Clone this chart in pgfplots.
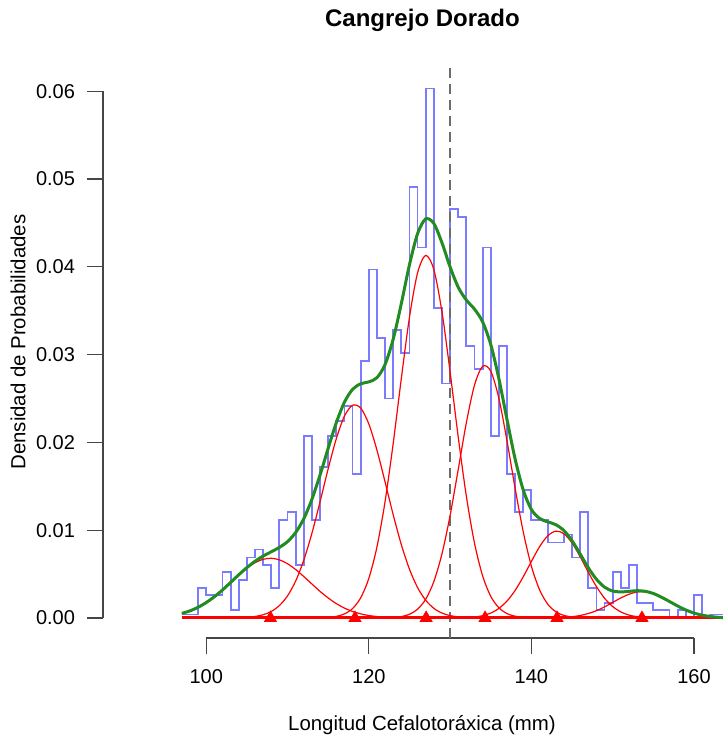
\documentclass[border=0pt]{standalone}
\usepackage{fontspec}
\setmainfont{Liberation Sans}
\usepackage{pgfplots}
\pgfplotsset{compat=1.18}
\definecolor{histblue}{RGB}{90,90,255}
\definecolor{fgreen}{RGB}{34,139,34}
\definecolor{axgray}{RGB}{70,70,70}

\begin{document}
\begin{tikzpicture}
\path[use as bounding box] (-51.5pt,-51pt) rectangle (310pt,319pt);
\begin{axis}[
  at={(0,0)}, anchor=south west,
  scale only axis, width=310pt, height=286pt,
  xmin=87.3, xmax=163.57, ymin=-0.00228, ymax=0.06287,
  axis lines*=left, axis line style={draw=none},
  clip=false,
  xtick={100,120,140,160},
  ytick={0,0.01,0.02,0.03,0.04,0.05,0.06},
  tick align=outside, major tick length=8pt,
  tick style={axgray, line width=0.6pt},
  /pgf/number format/assume math mode=true,
  scaled y ticks=false,
  yticklabel style={/pgf/number format/fixed, /pgf/number format/fixed zerofill, /pgf/number format/precision=2, xshift=-2.5pt},
  xticklabel style={/pgf/number format/set thousands separator={}, yshift=-4pt},
  tick label style={font=\fontsize{10}{12}\selectfont},
]
% axis lines (R style)
\draw[axgray, line width=0.6pt] (axis cs:100,-0.00228) -- (axis cs:160,-0.00228);
\draw[axgray, line width=0.6pt] (axis cs:87.3,0) -- (axis cs:87.3,0.06);

% histogram (density, 1 mm bins)
\addplot[const plot, histblue, line width=0.9pt, opacity=0.8] coordinates {
(97,0.0004)(98,0.0004)(99,0.0034)(100,0.0026)(101,0.0026)(102,0.0052)(103,0.0009)(104,0.0043)
(105,0.0069)(106,0.0078)(107,0.0060)(108,0.0034)(109,0.0112)(110,0.0121)(111,0.0060)(112,0.0207)
(113,0.0112)(114,0.0172)(115,0.0207)(116,0.0224)(117,0.0241)(118,0.0164)(119,0.0293)(120,0.0397)
(121,0.0319)(122,0.0250)(123,0.0328)(124,0.0302)(125,0.0491)(126,0.0422)(127,0.0603)(128,0.0353)
(129,0.0267)(130,0.0466)(131,0.0457)(132,0.0310)(133,0.0284)(134,0.0422)(135,0.0207)(136,0.0310)
(137,0.0164)(138,0.0121)(139,0.0146)(140,0.0112)(141,0.0112)(142,0.0086)(143,0.0086)(144,0.0095)
(145,0.0069)(146,0.0121)(147,0.0034)(148,0.0009)(149,0.0017)(150,0.0052)(151,0.0034)(152,0.0060)
(153,0.0017)(154,0.0017)(155,0.0009)(156,0.0009)(157,0)(158,0.0009)(159,0)(160,0.0026)
(161,0)(162,0.0004)(163.57,0.0004)
};

% cut-off line
\addplot[gray!85!black, line width=1.3pt, dash pattern=on 5pt off 3pt] coordinates {(130,-0.00228)(130,0.0629)};

% red baseline
\addplot[red, line width=1.5pt] coordinates {(97,0)(163.57,0)};

% components
\addplot[red, line width=0.6pt, smooth] coordinates {
(97,0.00052)(98,0.00081)(99,0.00122)(100,0.00176)(101,0.00242)(102,0.00319)(103,0.00404)(104,0.00489)
(105,0.00567)(106,0.00629)(107,0.00668)(108,0.00680)(109,0.00662)(110,0.00618)(111,0.00552)(112,0.00472)
(113,0.00387)(114,0.00303)(115,0.00228)(116,0.00164)(117,0.00113)(118,0.00074)(119,0.00047)(120,0.00028)
(121,0.00016)(122,0.00009)(123,0.00005)(124,0.00002)(125,0)
};
\addplot[red, line width=0.6pt, smooth] coordinates {
(103,0.00001)(104,0.00003)(105,0.00007)(106,0.00017)(107,0.00037)(108,0.00074)(109,0.00142)(110,0.00252)
(111,0.00421)(112,0.00659)(113,0.00965)(114,0.01323)(115,0.01699)(116,0.02042)(117,0.02299)(118,0.02423)
(119,0.02391)(120,0.02210)(121,0.01912)(122,0.01549)(123,0.01176)(124,0.00835)(125,0.00556)(126,0.00346)
(127,0.00202)(128,0.00110)(129,0.00056)(130,0.00027)(131,0.00012)(132,0.00005)(133,0.00002)(134,0)
};
\addplot[red, line width=0.6pt, smooth] coordinates {
(113,0)(114,0.00002)(115,0.00006)(116,0.00018)(117,0.00046)(118,0.00107)(119,0.00230)(120,0.00451)
(121,0.00809)(122,0.01327)(123,0.01989)(124,0.02729)(125,0.03425)(126,0.03932)(127,0.04130)(128,0.03968)
(129,0.03486)(130,0.02802)(131,0.02061)(132,0.01386)(133,0.00853)(134,0.00480)(135,0.00247)(136,0.00116)
(137,0.00050)(138,0.00020)(139,0.00007)(140,0.00002)(141,0)
};
\addplot[red, line width=0.6pt, smooth] coordinates {
(121,0)(122,0.00002)(123,0.00006)(124,0.00016)(125,0.00042)(126,0.00100)(127,0.00214)(128,0.00415)
(129,0.00731)(130,0.01168)(131,0.01692)(132,0.02225)(133,0.02652)(134,0.02867)(135,0.02812)(136,0.02501)
(137,0.02017)(138,0.01476)(139,0.00980)(140,0.00590)(141,0.00322)(142,0.00159)(143,0.00071)(144,0.00029)
(145,0.00011)(146,0.00004)(147,0)
};
\addplot[red, line width=0.6pt, smooth] coordinates {
(129,0)(130,0.00001)(131,0.00002)(132,0.00005)(133,0.00011)(134,0.00026)(135,0.00056)(136,0.00109)
(137,0.00193)(138,0.00314)(139,0.00470)(140,0.00644)(141,0.00811)(142,0.00935)(143,0.00989)(144,0.00960)
(145,0.00854)(146,0.00697)(147,0.00521)(148,0.00358)(149,0.00225)(150,0.00130)(151,0.00069)(152,0.00033)
(153,0.00015)(154,0.00006)(155,0.00002)(156,0)
};
\addplot[red, line width=0.6pt, smooth] coordinates {
(141,0)(142,0.00001)(143,0.00003)(144,0.00007)(145,0.00015)(146,0.00028)(147,0.00051)(148,0.00083)
(149,0.00126)(150,0.00177)(151,0.00228)(152,0.00270)(153,0.00296)(154,0.00298)(155,0.00277)(156,0.00237)
(157,0.00187)(158,0.00136)(159,0.00091)(160,0.00056)(161,0.00032)(162,0.00017)(163,0.00008)(163.57,0.00005)
};

% mixture density
\addplot[fgreen, line width=1.5pt, smooth] coordinates {
(97,0.00052)(98,0.00081)(99,0.00122)(100,0.00176)(101,0.00242)(102,0.00319)(103,0.00405)(104,0.00492)
(105,0.00574)(106,0.00646)(107,0.00705)(108,0.00754)(109,0.00804)(110,0.00870)(111,0.00973)(112,0.01131)
(113,0.01352)(114,0.01628)(115,0.01933)(116,0.02224)(117,0.02458)(118,0.02604)(119,0.02668)(120,0.02689)
(121,0.02737)(122,0.02887)(123,0.03176)(124,0.03582)(125,0.04023)(126,0.04378)(127,0.04546)(128,0.04493)
(129,0.04273)(130,0.03998)(131,0.03767)(132,0.03621)(133,0.03518)(134,0.03373)(135,0.03115)(136,0.02726)
(137,0.02260)(138,0.01810)(139,0.01457)(140,0.01236)(141,0.01134)(142,0.01095)(143,0.01063)(144,0.00996)
(145,0.00880)(146,0.00729)(147,0.00572)(148,0.00441)(149,0.00351)(150,0.00307)(151,0.00297)(152,0.00303)
(153,0.00311)(154,0.00304)(155,0.00279)(156,0.00237)(157,0.00187)(158,0.00136)(159,0.00091)(160,0.00056)
(161,0.00032)(162,0.00017)(163,0.00008)(163.57,0.00005)
};

% component means
\addplot[only marks, mark=triangle*, mark size=3.4pt, red] coordinates {
(107.9,0)(118.3,0)(127.05,0)(134.3,0)(143.15,0)(153.6,0)
};
\end{axis}
\node[font=\bfseries\fontsize{12}{14}\selectfont] at (159.75pt,309pt) {Cangrejo Dorado};
\node[font=\fontsize{10.2}{12}\selectfont] at (159.5pt,-43.5pt) {Longitud Cefalotoráxica (mm)};
\node[rotate=90, font=\fontsize{10.2}{12}\selectfont] at (-42.5pt,148pt) {Densidad de Probabilidades};
\end{tikzpicture}
\end{document}
